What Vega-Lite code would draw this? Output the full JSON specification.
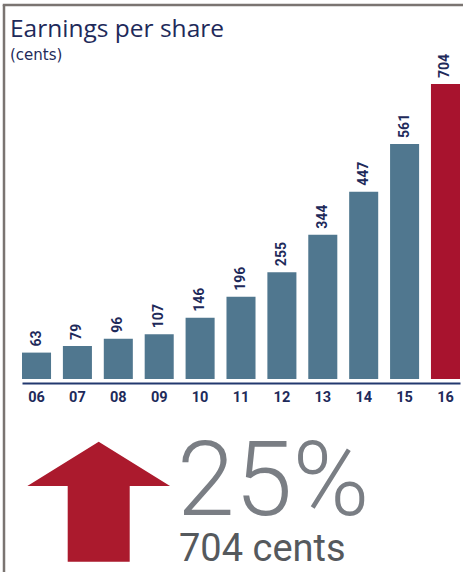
{
  "$schema": "https://vega.github.io/schema/vega-lite/v6.json",
  "width": 473,
  "height": 572,
  "autosize": {"type": "none"},
  "padding": 0,
  "background": "white",
  "config": {"view": {"stroke": null}, "font": "Roboto"},
  "title": {
    "text": "Earnings per share",
    "subtitle": "(cents)",
    "anchor": "start",
    "frame": "group",
    "offset": -63.5,
    "dx": 10,
    "font": "Open Sans",
    "fontSize": 24.5,
    "fontWeight": "normal",
    "color": "#1e2a5a",
    "subtitleFont": "DejaVu Sans",
    "subtitleFontSize": 15,
    "subtitleColor": "#1e2a5a",
    "subtitlePadding": 5
  },
  "datasets": {
    "eps": [
      {"year": "06", "eps": 63},
      {"year": "07", "eps": 79},
      {"year": "08", "eps": 96},
      {"year": "09", "eps": 107},
      {"year": "10", "eps": 146},
      {"year": "11", "eps": 196},
      {"year": "12", "eps": 255},
      {"year": "13", "eps": 344},
      {"year": "14", "eps": 447},
      {"year": "15", "eps": 561},
      {"year": "16", "eps": 704}
    ],
    "kpi": [{"growth": "25%", "latest": "704 cents"}]
  },
  "layer": [
    {
      "data": {"name": "eps"},
      "encoding": {
        "x": {
          "field": "year",
          "type": "ordinal",
          "sort": null,
          "scale": {"range": [22, 460], "paddingInner": 0.29, "paddingOuter": 0},
          "axis": {
            "title": null,
            "orient": "bottom",
            "offset": -189,
            "domainColor": "#22386f",
            "domainWidth": 2,
            "ticks": false,
            "grid": false,
            "labelAngle": 0,
            "labelFont": "Roboto",
            "labelFontSize": 14.5,
            "labelFontWeight": "bold",
            "labelColor": "#1e2a5a",
            "labelPadding": 7
          }
        },
        "y": {
          "field": "eps",
          "type": "quantitative",
          "scale": {"domain": [0, 704], "range": [379, 84], "nice": false, "zero": true},
          "axis": null
        }
      },
      "layer": [
        {
          "mark": {"type": "bar"},
          "encoding": {
            "color": {
              "condition": {"test": "datum.year === '16'", "value": "#a8132e"},
              "value": "#50778f"
            }
          }
        },
        {
          "mark": {
            "type": "text",
            "angle": 270,
            "align": "left",
            "baseline": "middle",
            "dx": 6,
            "font": "Roboto",
            "fontSize": 14,
            "fontWeight": "bold",
            "color": "#1e2a5a"
          },
          "encoding": {"text": {"field": "eps", "type": "quantitative"}}
        }
      ]
    },
    {
      "data": {"name": "kpi"},
      "layer": [
        {
          "mark": {"type": "rule", "color": "#7a7471", "strokeWidth": 2.5},
          "encoding": {
            "x": {"datum": 4, "type": "quantitative", "scale": {"domain": [0, 473], "nice": false, "zero": false}, "axis": null},
            "y": {"datum": 5, "type": "quantitative", "scale": {"domain": [0, 572], "reverse": true, "nice": false, "zero": false}, "axis": null},
            "y2": {"datum": 572}
          }
        },
        {
          "mark": {"type": "rule", "color": "#7a7471", "strokeWidth": 2.5},
          "encoding": {
            "x": {"datum": 2.75, "type": "quantitative", "scale": {"domain": [0, 473], "nice": false, "zero": false}, "axis": null},
            "x2": {"datum": 463},
            "y": {"datum": 5, "type": "quantitative", "scale": {"domain": [0, 572], "reverse": true, "nice": false, "zero": false}, "axis": null}
          }
        },
        {
          "mark": {
            "type": "point",
            "shape": "M0,-0.841L1,-0.22L0.4345,-0.22L0.4345,0.841L-0.4345,0.841L-0.4345,-0.22L-1,-0.22Z",
            "size": 20364,
            "filled": true,
            "opacity": 1,
            "strokeWidth": 0,
            "color": "#ab1a2d"
          },
          "encoding": {
            "x": {"datum": 98.7, "type": "quantitative", "scale": {"domain": [0, 473], "nice": false, "zero": false}, "axis": null},
            "y": {"datum": 501.7, "type": "quantitative", "scale": {"domain": [0, 572], "reverse": true, "nice": false, "zero": false}, "axis": null}
          }
        },
        {
          "mark": {
            "type": "text",
            "align": "left",
            "baseline": "alphabetic",
            "font": "Roboto",
            "fontSize": 104,
            "fontWeight": 300,
            "color": "#7a7e84"
          },
          "encoding": {
            "text": {"field": "growth"},
            "x": {"datum": 177, "type": "quantitative", "scale": {"domain": [0, 473], "nice": false, "zero": false}, "axis": null},
            "y": {"datum": 515, "type": "quantitative", "scale": {"domain": [0, 572], "reverse": true, "nice": false, "zero": false}, "axis": null}
          }
        },
        {
          "mark": {
            "type": "text",
            "align": "left",
            "baseline": "alphabetic",
            "font": "Roboto",
            "fontSize": 38,
            "fontWeight": "normal",
            "color": "#55595d"
          },
          "encoding": {
            "text": {"field": "latest"},
            "x": {"datum": 179, "type": "quantitative", "scale": {"domain": [0, 473], "nice": false, "zero": false}, "axis": null},
            "y": {"datum": 561, "type": "quantitative", "scale": {"domain": [0, 572], "reverse": true, "nice": false, "zero": false}, "axis": null}
          }
        }
      ]
    }
  ],
  "resolve": {"scale": {"x": "independent", "y": "independent", "color": "independent"}}
}
